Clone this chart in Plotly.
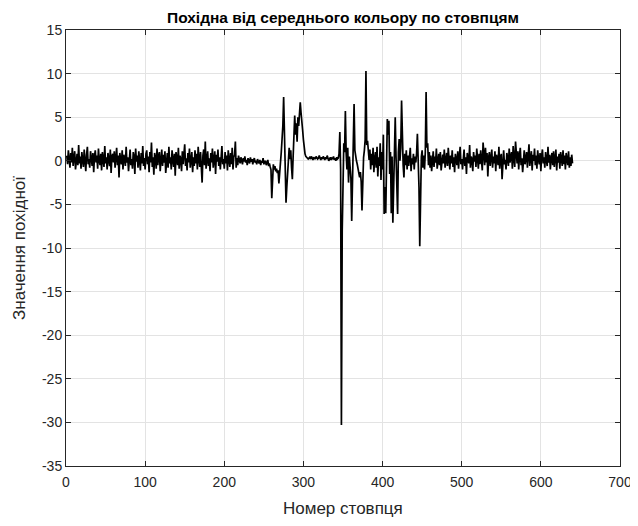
import plotly.graph_objects as go

# --- data ---
seg_noise_start = [  # columns 1-218
    0.6, -0.4, 1.2, 0.3, -0.8, 0.9, -0.2, 1.5, -0.6, 0.4, 1.1, -1.0, 0.2, 0.8, -0.5, 1.8, -0.3, 0.5, -0.9, 1.0,
    0.1, -0.7, 1.3, 0.4, -1.2, 0.7, 1.6, -0.4, 0.2, -0.8, 1.1, 0.3, -0.6, 0.9, -1.3, 0.5, 1.2, -0.2, 0.6, -0.9,
    1.4, 0.0, -0.5, 0.8, -1.1, 1.0, 0.3, -0.7, 1.7, -0.3, 0.4, -1.0, 0.9, 0.2, -0.6, 1.3, -1.4, 0.5, 0.8, -0.2,
    1.1, -0.8, 0.3, 1.5, -0.5, 0.6, -1.9, 0.9, 0.1, -0.4, 1.2, -1.0, 0.7, 0.3, -0.6, 1.6, -0.2, 0.4, -1.2, 0.8,
    1.3, -0.5, 0.2, -0.9, 1.0, 0.5, -1.5, 1.4, -0.1, 0.6, -0.8, 1.1, 0.2, -1.1, 0.9, -0.3, 1.7, -0.6, 0.3, -1.0,
    0.8, 1.2, -0.4, 0.5, -1.3, 1.0, -0.2, 2.1, -0.7, 0.4, -1.6, 0.9, 0.3, -0.9, 1.4, -0.5, 0.6, 1.0, -1.2, 0.2,
    1.3, -0.6, 0.7, -0.2, 1.1, -1.4, 0.5, 0.9, -0.8, 1.6, -0.3, 0.4, -1.0, 1.2, 0.1, -0.7, 0.8, -1.7, 1.0, 0.3,
    -0.5, 1.5, -0.9, 0.6, 0.2, -1.2, 1.1, -0.4, 0.7, 1.9, -0.6, 0.3, -1.1, 0.9, -0.2, 1.4, -0.8, 0.5, 1.0, -1.3,
    0.4, -0.6, 1.2, -0.3, 0.8, -1.0, 1.6, 0.2, -0.7, 1.0, -0.4, -2.5, 0.6, 1.3, -0.5, 2.2, -0.9, 0.4, 1.1, -0.6,
    0.3, -1.2, 0.9, -0.2, 1.4, -0.8, 0.5, 1.1, -1.5, 0.7, -0.1, 1.3, -0.6, 0.4, -1.0, 0.8, 1.7, -0.4, 0.2, -0.9,
    1.0, -0.3, 0.6, -1.1, 1.2, 0.1, -0.7, 0.9, -0.4, 1.5, -1.0, 0.4, 0.7, 2.2, -0.8, 0.3, -0.5, 0.6,
]
seg_calm = [  # columns 219-258
    0.2, -0.3, 0.4, 0.0, -0.4, 0.3, -0.1, 0.5, -0.2, 0.1, -0.5, 0.3, 0.0, -0.3, 0.4, -0.1, 0.2, -0.4, 0.1, 0.3,
    -0.2, 0.0, -0.4, 0.2, -0.1, -0.3, 0.1, -0.5, 0.0, -0.2, 0.3, -0.4, -0.1, 0.0, -0.5, -0.2, 0.1, -0.6, -0.3, -0.7,
]
seg_first_burst = [  # columns 259-306
    -1.0, -4.3, -0.8, -0.4, -1.0, -0.6, -1.2, -0.9, -1.4, -1.1, -2.6, -1.6, -0.5, 1.0,
    2.5, 4.0, 7.3, 3.0, -1.5, -4.8, -3.0, -1.0, 0.6, 1.5, 0.2, 1.2, -0.8, -2.1, 0.5, 2.8,
    5.2, 3.0, 4.3, 2.2, 5.0, 4.0, 6.2, 6.7, 5.5, 4.8, 3.5, 2.4, 1.4, 0.8, 0.5, 0.4, 0.3, 0.2,
]
seg_plateau = [  # columns 307-343
    0.3, 0.4, 0.2, 0.5, 0.3, 0.1, 0.4, 0.3, 0.2, 0.5, 0.4, 0.2, 0.3, 0.6, 0.3, 0.1, 0.4, 0.2, 0.5, 0.3,
    0.1, 0.4, 0.2, 0.6, 0.3, 0.0, 0.2, 0.4, 0.1, 0.3, 0.2, 0.5, 0.1, 0.3, 0.0, 0.4, 0.2,
]
seg_spikes = [  # columns 344-460
    0.3, 0.8, 3.3, -1.0, -30.3, -8.0, 0.5, 2.0, 1.0, 5.7,
    0.8, -1.0, 1.5, -2.5, 0.5, -0.8, -2.0, -6.9, -0.5, 2.0,
    6.5, 1.2, 0.3, 0.0, -0.4, -0.9, -1.5, -1.9, -1.3, -2.4,
    -5.7, -1.5, 0.4, 1.2, 2.4, 10.3, 1.8, 2.3, 0.6, 0.1,
    1.3, -1.0, 0.8, -0.5, 1.5, -1.3, 0.2, 1.0, -0.8, 1.6,
    -1.8, 0.4, -0.6, 2.0, -2.2, 1.0, -1.0, 3.0, -6.1, -3.0,
    -6.0, 1.0, 4.8, 3.0, 4.6, -1.5, 1.0, -6.0, 0.5, -7.1,
    -2.0, 2.0, 5.0, 0.5, -3.0, -6.1, 1.0, 2.5, 0.0, 1.5,
    6.9, 1.0, -0.5, -1.9, 0.8, -0.5, 1.2, -1.0, 0.6, -0.6,
    0.9, 1.5, -1.2, 0.3, -0.4, 0.8, -1.0, 0.5, -0.2, 0.9,
    3.1, 0.5, -3.0, -9.8, -2.0, 0.5, 1.2, -0.8, 0.6, -1.0,
    1.0, 7.9, 1.5, 2.0, -0.5, 1.0, -0.8,
]
seg_noise_end = [  # columns 461-640
    0.6, -1.2, 0.3, 1.1, -0.7, 0.5, -0.2, 1.4, -0.9, 0.2, 0.8, -0.5, 1.0, -1.1, 0.4, 0.7, -0.3, 1.3, -0.8, 0.1,
    0.9, -0.6, 1.5, 0.2, -1.0, 0.6, -0.3, 1.2, -0.7, 0.4, -1.3, 0.8, 0.3, -0.5, 1.1, -0.9, 0.5, 1.6, -0.4, 0.2,
    -1.0, 0.7, 1.3, -0.6, 0.4, -1.5, 0.9, 0.1, -0.3, 1.8, -0.8, 0.5, 0.2, -1.2, 1.0, -0.1, 0.6, -0.7, 1.4, 0.3,
    -0.9, 0.8, -0.4, 1.2, 0.0, -1.1, 2.1, 0.6, -0.5, 1.5, -0.2, 0.9, -1.8, 0.4, 1.0, -0.6, 0.3, 1.3, -0.8, 0.5,
    -0.3, 1.1, -1.2, 0.7, 0.2, -0.5, 1.6, -0.9, 0.4, 0.8, -2.1, 0.6, 1.2, -0.4, 0.1, -1.0, 0.9, 0.3, -0.6, 1.4,
    -0.2, 0.5, 1.0, -0.9, 1.7, 0.2, -0.7, 2.2, 0.4, -0.3, 1.1, -1.0, 0.6, 1.5, -0.5, 0.3, -1.3, 0.8, 1.2, -0.4,
    0.2, 1.0, -0.8, 0.5, 1.9, -0.6, 0.3, 1.1, -1.1, 0.7, 0.0, 1.4, -0.5, 0.6, -0.9, 1.2, 0.2, -0.4, 0.9, -1.2,
    0.6, 1.3, -0.3, 0.4, -0.8, 1.0, 0.1, -0.6, 1.6, -0.2, 0.7, -1.0, 0.3, 0.9, -0.5, 1.1, -0.7, 0.2, 1.3, -1.1,
    0.5, -0.2, 0.8, -0.9, 1.0, 0.3, -0.6, 1.2, -0.4, 0.6, -1.0, 0.9, 0.1, -0.5, 1.1, -0.8, 0.4, -0.6, 0.7, -0.3,
]

derivative = seg_noise_start + seg_calm + seg_first_burst + seg_plateau + seg_spikes + seg_noise_end
columns = list(range(1, len(derivative) + 1))

x_ticks = [0, 100, 200, 300, 400, 500, 600, 700]
y_ticks = [-35, -30, -25, -20, -15, -10, -5, 0, 5, 10, 15]
y_tick_labels = ["-35", "-30", "-25", "-20", "-15", "-10", "-5", "0", "5", "10", "15"]

title_text = "Похідна від середнього кольору по стовпцям"
x_label = "Номер стовпця"
y_label = "Значення похідної"

FONT = "Liberation Sans, Arial, Helvetica, sans-serif"
AXC = "#262626"

# The page body has an 8 px margin, so the figure is sized/placed to compensate.
OFF = 8
W, H = 638 - OFF, 526 - OFF
ML, MR, MT, MB = 66 - OFF, 18, 30 - OFF, 60
PW, PH = W - ML - MR, H - MT - MB


def ypaper(page_y):
    return (MT + PH - (page_y - OFF)) / PH


def xpaper(page_x):
    return (page_x - OFF - ML) / PW


fig = go.Figure()
fig.add_trace(go.Scatter(
    x=columns, y=derivative, mode="lines",
    line=dict(color="black", width=1.7),
    showlegend=False, hoverinfo="skip",
))

axis_common = dict(
    showline=True, linecolor=AXC, linewidth=1, mirror="ticks",
    ticks="inside", ticklen=5, tickcolor=AXC, tickwidth=1,
    showgrid=True, gridcolor="#e3e3e3", gridwidth=1,
    zeroline=False, automargin=False,
    tickfont=dict(family=FONT, size=14, color=AXC),
)

fig.update_layout(
    width=W, height=H,
    paper_bgcolor="white", plot_bgcolor="white",
    margin=dict(l=ML, r=MR, t=MT, b=MB, autoexpand=False),
    xaxis=dict(range=[0, 700], tickvals=x_ticks, ticklabelstandoff=3, **axis_common),
    yaxis=dict(range=[-35, 15], tickvals=y_ticks, ticktext=y_tick_labels, **axis_common),
    annotations=[
        dict(text="<b>" + title_text + "</b>", x=0.5, xref="paper", xanchor="center",
             y=ypaper(17), yref="paper", yanchor="middle",
             showarrow=False, font=dict(family=FONT, size=15.5, color="black")),
        dict(text=x_label, x=0.5, xref="paper", xanchor="center",
             y=ypaper(508), yref="paper", yanchor="middle",
             showarrow=False, font=dict(family=FONT, size=17, color=AXC)),
        dict(text=y_label, x=xpaper(19), xref="paper", xanchor="center",
             y=0.5, yref="paper", yanchor="middle", textangle=-90,
             showarrow=False, font=dict(family=FONT, size=17, color=AXC)),
    ],
)

fig.write_html("out.html")
